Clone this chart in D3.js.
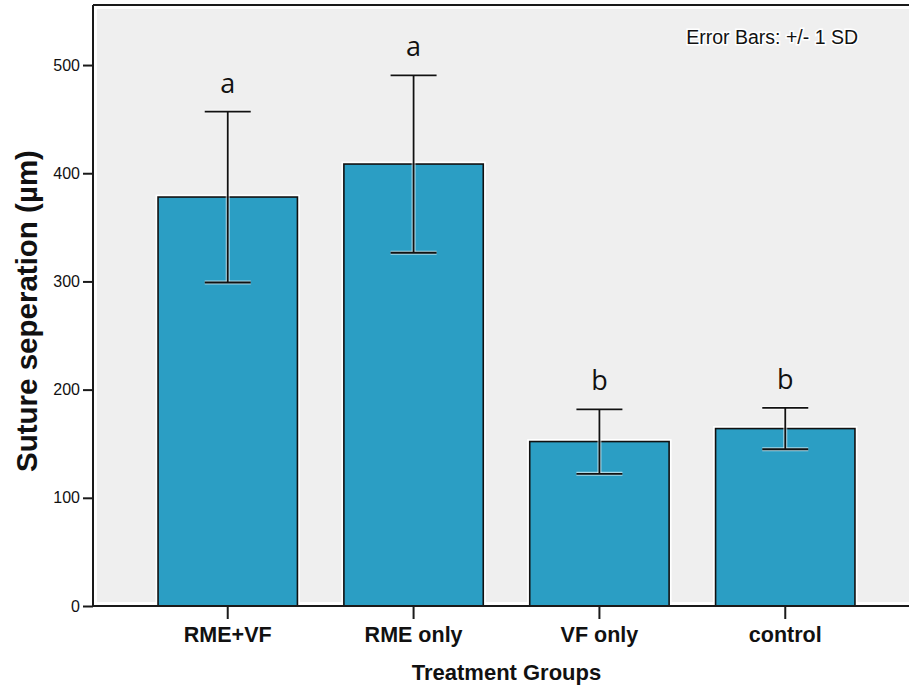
<!DOCTYPE html>
<html>
<head>
<meta charset="utf-8">
<script src="https://cdn.jsdelivr.net/npm/d3@7"></script>
<style>
  html, body { margin: 0; padding: 0; background: #ffffff; }
  svg { display: block; }
</style>
</head>
<body>
<svg id="chart" width="909" height="689"></svg>
<script>
// ---- data ----
const categories = ["RME+VF", "RME only", "VF only", "control"];
const means = [378, 408.5, 152, 164];
const sds = [79, 82, 29.8, 19.1];
const groupLetters = ["a", "a", "b", "b"];
const yTicks = [0, 100, 200, 300, 400, 500];
const yTitle = "Suture seperation (\u00b5m)";
const xTitle = "Treatment Groups";
const noteText = "Error Bars: +/- 1 SD";

(function () {
// ---- layout ----
const W = 909, H = 689;
const pL = 93, pR = 920, pT = 5, pB = 606;
const svg = d3.select("#chart");

const x = d3.scaleBand().domain(categories).range([pL, pR])
  .paddingInner(0.25).paddingOuter(0.35);
const y = d3.scaleLinear().domain([0, 555.5]).range([pB, pT]);

// background
svg.append("rect").attr("x", 0).attr("y", 0).attr("width", W).attr("height", H).attr("fill", "#fff");
svg.append("rect")
  .attr("x", pL + 4).attr("y", pT + 4)
  .attr("width", pR - pL - 8).attr("height", pB - pT - 8)
  .attr("fill", "#efefef");

// frame top
svg.append("line").attr("x1", pL).attr("x2", pR + 5).attr("y1", pT).attr("y2", pT)
  .attr("stroke", "#1a1a1a").attr("stroke-width", 2);

// bars with white halo
const bars = svg.append("g");
bars.selectAll("rect.halo").data(categories).join("rect")
  .attr("class", "halo")
  .attr("x", d => x(d)).attr("width", x.bandwidth())
  .attr("y", (d, i) => y(means[i])).attr("height", (d, i) => y(0) - y(means[i]))
  .attr("fill", "none").attr("stroke", "#ffffff").attr("stroke-width", 5);
bars.selectAll("rect.bar").data(categories).join("rect")
  .attr("class", "bar")
  .attr("x", d => x(d)).attr("width", x.bandwidth())
  .attr("y", (d, i) => y(means[i])).attr("height", (d, i) => y(0) - y(means[i]))
  .attr("fill", "#2b9ec4").attr("stroke", "#111").attr("stroke-width", 1.6);

// error bars
const capHalf = 23;
const eb = svg.append("g");
categories.forEach((c, i) => {
  const cx = x(c) + x.bandwidth() / 2;
  const y1 = y(means[i] + sds[i]), y0 = y(means[i] - sds[i]);
  const g = eb.append("g");
  const segs = [
    [cx, y1, cx, y0],
    [cx - capHalf, y1, cx + capHalf, y1],
    [cx - capHalf, y0, cx + capHalf, y0]
  ];
  segs.forEach(s => {
    g.append("line").attr("x1", s[0]).attr("y1", s[1]).attr("x2", s[2]).attr("y2", s[3])
      .attr("stroke", "#ffffff").attr("stroke-width", 4).attr("stroke-opacity", 0.6);
  });
  segs.forEach(s => {
    g.append("line").attr("x1", s[0]).attr("y1", s[1]).attr("x2", s[2]).attr("y2", s[3])
      .attr("stroke", "#111").attr("stroke-width", 1.8);
  });
  // significance letters
  svg.append("text")
    .attr("x", cx).attr("y", y1 - 19)
    .attr("text-anchor", "middle")
    .attr("font-family", "'Open Sans', sans-serif")
    .attr("font-size", 27)
    .attr("fill", "#111")
    .text(groupLetters[i]);
});

// y axis
const yAxis = d3.axisLeft(y).tickValues(yTicks).tickSize(10).tickPadding(3).tickFormat(d3.format("d"));
const gy = svg.append("g").attr("transform", `translate(${pL},0)`).call(yAxis);
gy.select(".domain").attr("stroke", "#1a1a1a").attr("stroke-width", 2).attr("d", `M0,${pT}V${pB}`);
gy.selectAll(".tick line").attr("stroke", "#1a1a1a").attr("stroke-width", 2);
gy.selectAll(".tick text").attr("font-family", "'Liberation Sans', Arial, sans-serif")
  .attr("font-size", 16).attr("fill", "#111");

// x axis
const xAxis = d3.axisBottom(x).tickSize(13).tickPadding(8);
const gx = svg.append("g").attr("transform", `translate(0,${pB})`).call(xAxis);
gx.select(".domain").attr("stroke", "#1a1a1a").attr("stroke-width", 2).attr("d", `M${pL},0H${pR + 5}`);
gx.selectAll(".tick line").attr("stroke", "#1a1a1a").attr("stroke-width", 2);
gx.selectAll(".tick text").attr("font-family", "'Liberation Sans', Arial, sans-serif")
  .attr("font-size", 21.5).attr("font-weight", "bold").attr("fill", "#111");

// axis titles
svg.append("text")
  .attr("x", (pL + pR) / 2).attr("y", 680)
  .attr("text-anchor", "middle")
  .attr("font-family", "'Liberation Sans', Arial, sans-serif")
  .attr("font-size", 22).attr("font-weight", "bold").attr("fill", "#111")
  .text(xTitle);

svg.append("text")
  .attr("transform", `translate(37,311) rotate(-90)`)
  .attr("text-anchor", "middle")
  .attr("font-family", "'Liberation Sans', Arial, sans-serif")
  .attr("font-size", 29.5).attr("font-weight", "bold").attr("fill", "#111")
  .text(yTitle);

// note
svg.append("text")
  .attr("x", 858).attr("y", 44)
  .attr("text-anchor", "end")
  .attr("font-family", "'Liberation Sans', Arial, sans-serif")
  .attr("font-size", 19.5).attr("fill", "#111")
  .attr("stroke", "#ffffff").attr("stroke-width", 3).attr("paint-order", "stroke")
  .text(noteText);
})();
</script>
</body>
</html>
